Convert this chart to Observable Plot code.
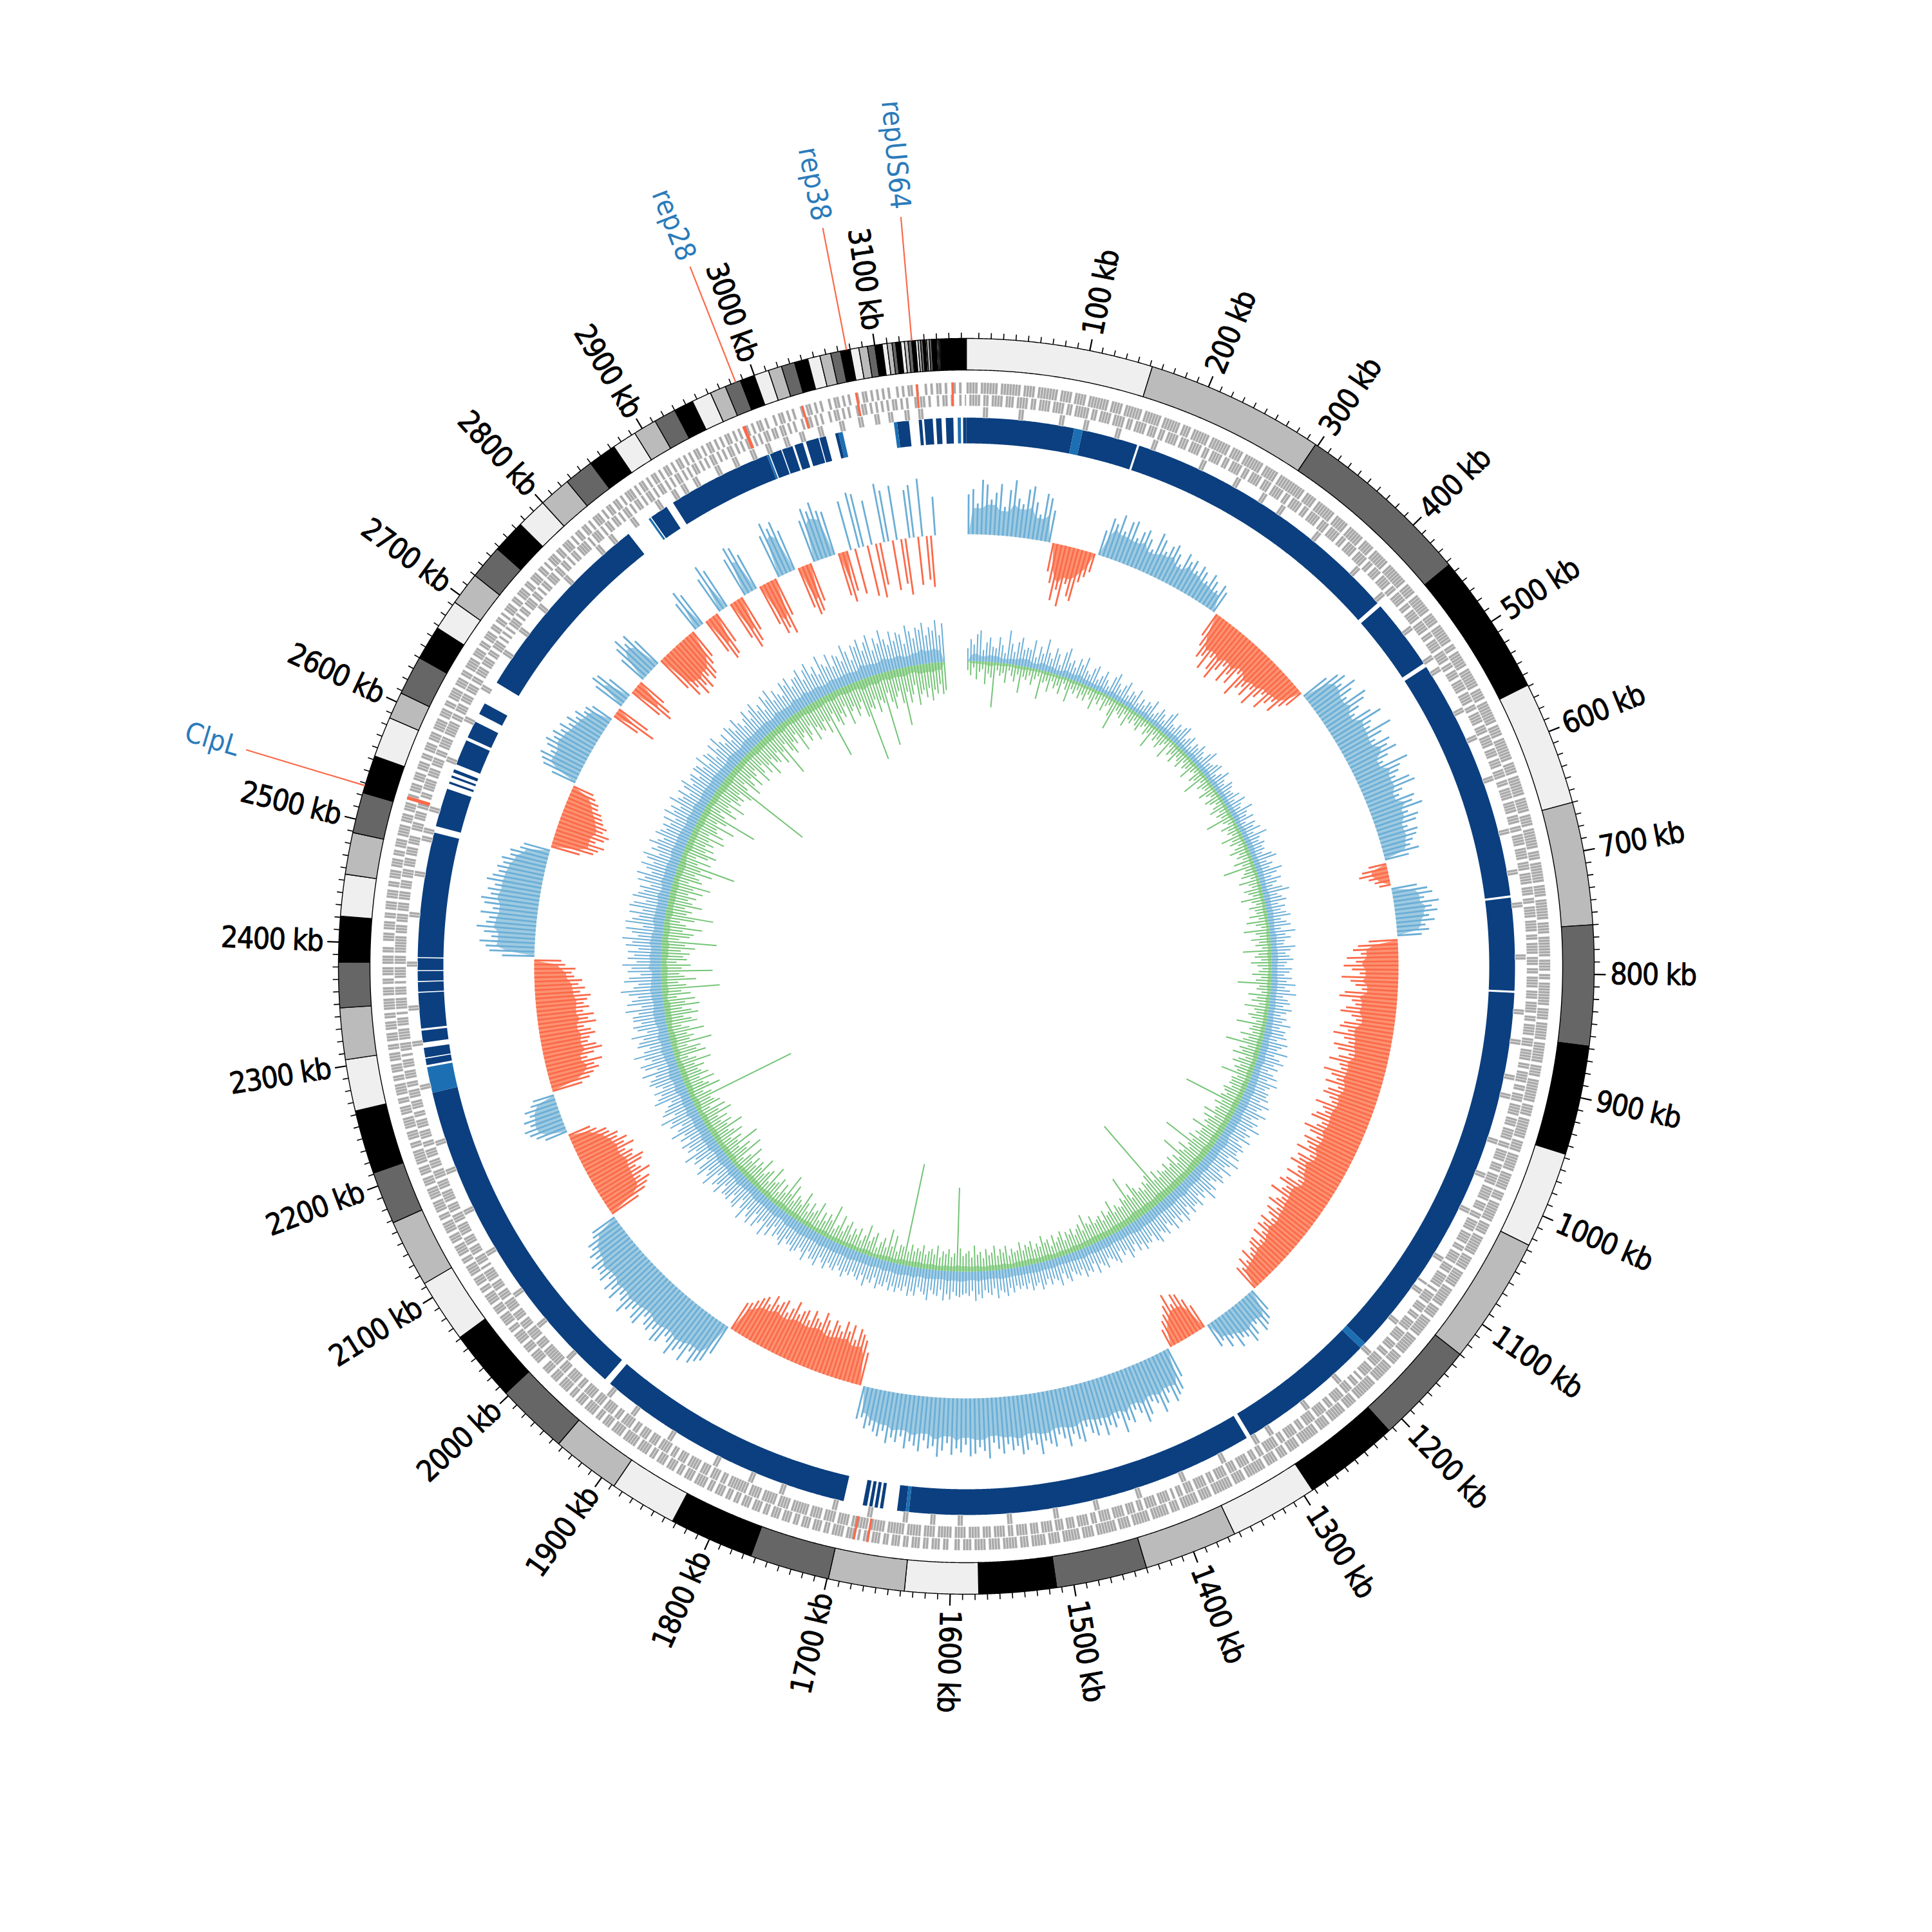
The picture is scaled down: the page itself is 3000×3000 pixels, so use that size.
<!DOCTYPE html>
<html><head><meta charset="utf-8">
<script src="https://cdn.jsdelivr.net/npm/d3@7"></script>
<script src="https://cdn.jsdelivr.net/npm/@observablehq/plot@0.6"></script>
<style>body{margin:0;background:#fff}</style>
</head><body><div id="chart"></div>
<script>
// ---------------- data ----------------
const genomeKb = 3174;
const tickKb = [100,200,300,400,500,600,700,800,900,1000,1100,1200,1300,1400,1500,1600,1700,1800,1900,2000,2100,2200,2300,2400,2500,2600,2700,2800,2900,3000,3100];
const tickLabels = tickKb.map(k => k + " kb");

// contig / band ends (kb); colours cycle light, grey, dark, black
const bandEnds = [152,298,443,559,660,760,858,947,1026,1130,1214,1292,1364,1440,1514,1577,1637,1699,1764,1833,1888,1944,2003,2061,2113,2168,2211,2263,2305,2347,2384,2421,2455,2489,2522,2553,2586,2608,2640,2668,2693,2720,2748,2775,2800,2826,2850,2873,2893,2912,2930,2946,2962,2975,2988,3000,3012,3023,3034,3045,3055,3064,3072,3080,3087,3094,3100,3106,3110,3114,3117,3121,3124,3127,3130,3133,3135,3137,3139,3141,3142,3144,3146,3150,3151,3152,3153,3174];
const bandColors = ["#efefef","#bbbbbb","#666666","#000000"];

// gene presence per 2.5-kb slot, one string per 100 kb (outer, inner and extra tile layers)
const geneOuter = ["1111011111101111111011110111111101111011","1101111111011110111111011111101111110111","0111111011111110111101111111011111011111","1111101111011111110111110111111011110111","1110111111110111101111111011110111111101","1011111101111111011110111111110111101111","1111011110111111101111101111011111110111","0111111101111011111110111101111111011110","1101111111101111011111101111111011110111","1111101111011111110111101111110111111011","1011111110111101111111011111011111101111","1110111101111111011111110111101111111011","1111110111101111110111101111111011110111","0111101111111011110111111101111011111101","1101111110111111011110111111101111011111","1011110111110111011111011110111101110110","0110111011011101101110110111011010111011","1101101110111011011101110110111011101101","1011101101111011101101110111011011110111","1101111011101101111011101101111011101110","0111101110111101101111011101111011011101","1110110111101110111101101111011110111011","1011111011011101111011101101111011011101","1101101110111011011110111011011101110110","0111011101101110111011011101110110111011","1101110111011011101110111011011101110111","1011101101111011101101111011101101110110","1101011101101110110111011010111011011101","0110110101110101101101011101011010110101","1010110101011010110101011010101101011010","0101101010010110101001011010100101101010","1010010101101001010110100101001000000000"];
const geneInner = ["0111101101111011101111011011110111101101","1111011011110111101101111011101101111011","1011110110111101101111011011110111011110","1101111011011110111011110110111101111011","0111011110110111101101111011110110111101","1110110111011110111101101111011101111011","1011101110110111101111011101101111011110","1110111101110110111101111011011110111011","0111101110111101101111011101111011011110","1101110111101110111101101111011101111011","1110111011011110111101101111011101111101","0111101110110111101111011101101111011110","1011011101111011011110111101101111011011","1110110110111101110111101101111011101101","0111101111011011101111011110110111101110","1110111101110111101101111011101111011110","1111101111011111011111101111101111110111","1011110111101111110111101111101111011111","1101101110111011110111011011110111011101","1011110110111101110111101101111011101111","1110111011110111011101111011101110111101","0111011101110111101110111011110111011101","1101110110111011101101110111011011101110","1011101111011101011110111010111101110111","1110111011101110111011101110111011101110","0111011101110110111101110111011011110111","1101101110111011101101110111011011101010","1011101011011101101011011101101101011011","1101011101011011010110101101011010110101","0110101011010101101010110101011010101101","1011010100101101010010110101001011010101","0101101010010110100101101001011000000000"];
const geneExtra = ["0000001100000000000110000000000000110000","0001100000000001100000000000011000000000","0000000011000000000000110000000001100000","0110000000000000011000000000000000001100","0000000001100000000000000110000000000011","0001100000000000000011000000000110000000","0000000110000000000000000001100000000000","0011000000000011000000000000000001100000","0000000000000110000000001100000000000110","0000110000000000000001100000000000110000","0000000011000000000000000000110000000001","0011000000000000110000000000000110000000","0000001100000000000001100000000000000110","0001100000000000011000000000000001100000","0000000000110000000000000011000000000000","0110000000000000001100000000000000001100","0000001100000000110000000000011000000000","0011000000000000000000110000000000110000","0000000011000000000000000001100000000000","0001100000000011000000000000000000110000","0000000000110000000000001100000000000000","0011000000000000000110000000000000011000","0000001100000000000000000001100000000000","0001100000000000110000000000000011000000","0000000000110000000000000110000000000011","0110000001100000000000000000110000000000","0000110000000000011000000000000011000000","0011000000000110000000000001100000000000","0001100001100000000110000000001100000110","0110001100000001100000110000011000011000","0011000011000001100000011000001100001100","0110000110001100000000000000000000000000"];
const redGeneStart = [1672,1684,2527,2975,3029,3077,3130,3161];
const redGeneEnd   = [1674,1686,2530,2978,3031,3079,3132,3163];

// alignment / coverage blocks (kb)
const darkBlocks = [[0,100],[108,160],[162,428],[432,498],[502,728],[730,816],[818,1176],[1182,1312],[1316,1640],[1643,1651],[1664,1667],[1669,1672],[1674,1677],[1679,1683],[1701,1944],[1950,2263],[2289,2295],[2296,2305],[2310,2321],[2323,2356],[2357,2366],[2367,2376],[2377,2388],[2389,2505],[2511,2547],[2552,2554],[2558,2560],[2563,2566],[2571,2595],[2598,2614],[2622,2633],[2655,2839],[2865,2882],[2889,2986],[2989,3000],[3001,3011],[3013,3021],[3024,3036],[3037,3043],[3052,3055],[3110,3121],[3130,3133],[3135,3143],[3146,3151],[3155,3162],[3171,3174]];
const lightBlocks = [[100,108],[1176,1182],[1640,1643],[2263,2287],[2862,2864],[2986,2988],[3055,3059],[3107,3110],[3166,3169]];

// skew-like histogram, 5-kb bins from 0 kb (positive = blue outward, negative = red inward)
const skew = [
 62,70,48,85,78,55,66,80,45,72,88,60,52,76,82,58,40,74,68,50,
 -45,-62,-88,-70,-95,-58,-76,-82,-50,-40,-30,
 40,62,55,72,48,66,70,45,58,64,52,38,68,60,44,56,62,50,36,58,48,54,40,52,46,34,50,42,30,44,36,
 -40,-55,-72,-66,-85,-60,-78,-90,-70,-58,-82,-64,-76,-52,-88,-70,-62,-74,-56,-80,-60,-48,-70,-54,-44,-58,-40,-30,
 45,62,70,58,78,66,52,82,74,60,48,72,86,64,58,90,70,55,76,68,80,62,50,88,72,66,58,78,84,60,52,74,68,82,56,70,64,48,62,58,50,44,56,38,
 -28,-40,-46,-32,-24,-18,
 40,55,62,48,70,58,66,52,60,45,50,38,
 -45,-62,-70,-58,-80,-66,-85,-72,-60,-88,-74,-66,-56,-82,-90,-70,-64,-78,-86,-68,
 -60,-78,-84,-70,-92,-74,-66,-88,-80,-62,-76,-90,-72,-68,-94,-80,-70,-86,-64,-78,
 -84,-72,-66,-90,-76,-70,-82,-88,-68,-74,-92,-80,-66,-84,-76,-70,-88,-62,-80,-74,
 -86,-70,-66,-82,-58,-76,-84,-68,-72,-88,-64,-70,-80,-60,-74,-66,-56,-72,-62,-68,
 -54,-66,-48,-60,-58,-50,-44,-56,-40,-50,-36,-42,
 38,50,56,62,44,58,66,52,48,60,40,50,34,40,
 -40,-55,-68,-72,-58,-78,-62,-50,-42,-30,
 48,66,72,80,62,76,88,70,64,82,92,74,66,84,78,95,70,82,76,90,
 72,86,80,68,90,84,74,92,78,70,88,82,76,96,80,72,86,92,78,84,
 74,88,80,70,94,82,76,86,90,72,84,78,88,70,82,92,76,80,68,86,
 78,72,84,66,76,70,80,62,72,66,58,64,48,52,
 -52,-70,-78,-85,-66,-88,-76,-90,-72,-80,-86,-68,-82,-92,-74,-78,-88,-70,-84,-80,-72,-90,-76,-66,-84,-78,-70,-82,-64,-74,-68,-60,-52,-48,
 50,68,74,82,66,88,72,80,92,76,70,86,90,74,82,78,68,88,84,72,80,92,76,70,86,74,82,66,78,72,70,76,62,68,58,60,46,42,
 -50,-66,-74,-82,-70,-90,-78,-72,-86,-92,-76,-80,-70,-88,-74,-82,-68,-72,-60,-58,-44,-36,
 36,48,56,62,50,58,46,52,40,34,
 -48,-62,-70,-80,-74,-88,-66,-78,-92,-84,-72,-76,-86,-80,-70,-90,-78,-88,-72,-82,-74,-80,-86,-70,-78,-68,-74,-62,-58,-64,-48,-42,
 50,70,76,86,68,80,92,78,74,88,70,84,90,76,82,72,86,78,70,74,66,70,58,60,46,42,
 -46,-66,-72,-80,-64,-76,-82,-70,-74,-66,-62,-58,-50,-48,-40,-34,
 40,58,64,70,56,66,72,62,68,58,64,52,60,48,54,42,44,36,
 -45,-70,-55, 50,62,58,40, -55,-72,-64,-48, 45,62,72,58,68,50,
 -60,-80,-70,-88,-76,-85,-68,-78,-72,-58,-48, 50,66,56, -58,-75,-70,-52, 60,78,66,
 -62,-82,-74,-58, 64,80,76,60, -66,-85,-78,-90,-62, 70,88,76,84,66, -66,-80,-76,-62,
 68,85,78,90,74,70, -68,-80,-64,
 78,-72,88,84,-80,70,-85,-66,92,80,-78,85,-70,-88,75,82,-75,90,-68,-80,60];

// inner track, 5-kb bins: high part (blue, outward) and low part (green, inward)
const gcHigh = [
 20,34,26,42,48,18,30,38,24,22,40,28,16,52,32,20,36,44,26,30,
 28,44,18,36,26,50,30,22,40,32,16,38,46,24,30,20,36,28,42,22,
 18,30,36,16,24,34,22,14,32,40,26,18,28,36,16,26,22,34,14,24,
 16,26,22,34,14,20,30,24,16,32,38,20,18,28,22,30,34,16,22,28,
 14,24,20,30,22,16,28,36,18,20,26,30,14,22,32,20,16,28,24,18,
 20,28,16,32,22,18,36,24,20,30,14,28,22,32,18,38,24,20,28,22,
 24,18,32,38,20,28,22,40,30,20,34,26,18,32,42,22,28,34,20,30,
 22,30,36,20,28,34,18,40,24,32,22,20,38,30,22,28,34,24,20,32,
 28,20,32,24,38,22,30,40,20,28,32,22,36,28,20,30,24,38,22,32,
 30,36,22,40,32,26,44,24,34,42,28,36,22,32,40,26,44,34,28,36,
 34,40,28,46,36,30,48,38,28,42,36,50,30,40,34,46,28,38,44,36,
 38,46,30,52,40,34,50,32,42,48,38,30,46,40,54,34,42,32,48,40,
 40,48,32,44,52,36,46,34,50,40,32,48,42,36,52,46,34,42,40,48,
 36,44,30,40,48,32,38,28,46,40,34,30,44,38,32,46,28,40,36,44,
 30,38,34,28,42,36,26,44,34,30,38,28,36,42,30,34,40,28,36,30,
 34,28,38,30,42,36,32,44,28,38,34,30,42,36,46,30,38,34,36,40,
 38,32,44,36,46,30,40,38,32,48,40,36,30,44,38,46,32,40,36,44,
 36,44,32,40,38,46,30,40,36,48,32,42,38,32,40,36,46,38,32,42,
 40,34,46,38,32,48,40,42,32,50,38,34,42,46,38,40,34,48,42,36,
 42,28,48,36,54,32,40,50,30,52,44,34,56,40,28,48,44,32,46,42,
 44,32,52,40,46,30,56,44,36,54,46,28,48,42,58,34,46,40,50,32,
 46,36,56,42,32,50,44,60,34,52,46,38,30,56,48,40,50,34,44,52,
 48,38,58,32,50,56,36,46,62,44,34,52,48,40,58,32,46,52,38,50,
 50,40,60,34,56,48,38,52,64,44,36,58,50,32,52,46,60,38,52,42,
 52,36,56,46,62,38,48,58,32,60,50,40,56,36,58,52,34,56,48,40,
 48,32,54,44,58,36,46,56,38,50,58,34,48,40,56,44,36,52,46,38,
 46,36,50,32,54,40,48,34,56,44,38,50,32,46,54,36,44,48,34,50,
 48,38,56,34,50,46,32,54,40,58,44,36,50,32,54,48,38,56,44,34,
 44,54,36,48,56,38,46,32,54,44,58,36,50,40,34,54,46,56,38,48,
 48,58,38,52,60,40,50,34,62,46,40,58,36,52,48,38,62,50,34,56,
 52,62,42,54,64,38,56,46,66,50,40,60,44,56,52,36,64,54,42,58,
 54,64,44,56,50,66,42,60];
const gcLow = [
 -14,-22,-10,-28,-16,-12,-35,-18,-24,-70,-12,-20,-15,-30,-10,-18,-26,-14,-42,-16,
 -20,-12,-26,-16,-10,-45,-18,-14,-30,-12,-22,-16,-28,-10,-18,-36,-14,-20,-12,-24,
 -16,-24,-12,-18,-32,-14,-20,-10,-26,-16,-12,-28,-48,-14,-18,-22,-12,-30,-16,-20,
 -12,-18,-24,-14,-10,-22,-16,-38,-12,-20,-14,-26,-18,-12,-34,-10,-22,-16,-28,-14,
 -18,-26,-12,-20,-16,-30,-14,-10,-24,-18,-40,-12,-22,-16,-14,-28,-18,-12,-26,-20,
 -12,-20,-28,-14,-22,-16,-44,-18,-12,-26,-16,-20,-14,-34,-18,-24,-12,-20,-30,-16,
 -22,-14,-30,-18,-50,-16,-20,-26,-12,-32,-18,-14,-28,-22,-16,-36,-20,-14,-26,-18,
 -16,-28,-14,-34,-20,-12,-40,-22,-16,-30,-18,-24,-14,-44,-20,-26,-16,-32,-22,-14,
 -20,-30,-16,-24,-52,-18,-22,-14,-34,-20,-28,-16,-38,-22,-18,-30,-24,-16,-46,-20,
 -24,-18,-36,-22,-30,-56,-20,-32,-26,-40,-18,-28,-36,-22,-30,-24,-48,-20,-28,-26,
 -28,-22,-34,-30,-24,-32,-90,-26,-36,-24,-30,-28,-45,-24,-40,-30,-34,-26,-50,-30,
 -30,-36,-26,-42,-32,-80,-34,-28,-46,-32,-38,-65,-30,-40,-26,-44,-34,-30,-42,-32,
 -34,-40,-30,-46,-32,-146,-48,-36,-42,-30,-38,-34,-44,-55,-32,-40,-73,-36,-42,-30,
 -32,-38,-28,-50,-34,-30,-40,-26,-36,-32,-28,-42,-30,-34,-50,-26,-38,-32,-24,-36,
 -28,-34,-22,-38,-30,-24,-36,-20,-32,-28,-40,-24,-30,-22,-36,-28,-32,-24,-38,-26,
 -24,-30,-20,-36,-26,-32,-22,-38,-28,-24,-34,-20,-30,-26,-40,-22,-32,-28,-24,-36,
 -130,-28,-22,-34,-26,-30,-20,-38,-24,-32,-28,-22,-36,-26,-30,-24,-34,-22,-160,-28,
 -30,-18,-42,-24,-50,-20,-34,-26,-16,-38,-30,-22,-46,-28,-18,-36,-24,-32,-20,-40,
 -32,-20,-44,-26,-18,-54,-28,-36,-22,-34,-18,-46,-30,-24,-38,-20,-32,-48,-24,-30,
 -34,-22,-46,-28,-58,-24,-36,-18,-40,-30,-26,-50,-20,-38,-32,-24,-48,-28,-36,-24,
 -36,-24,-48,-30,-18,-56,-32,-42,-24,-62,-28,-38,-22,-46,-34,-26,-54,-30,-40,-24,
 -38,-24,-50,-30,-44,-20,-40,-32,-28,-170,-34,-22,-52,-36,-28,-48,-26,-42,-32,-28,
 -40,-26,-54,-32,-20,-50,-36,-44,-24,-64,-30,-38,-28,-56,-34,-22,-48,-40,-28,-52,
 -42,-28,-56,-34,-50,-22,-44,-30,-90,-38,-26,-54,-36,-28,-80,-32,-46,-24,-40,-34,
 -44,-30,-52,-36,-85,-26,-42,-48,-30,-60,-34,-24,-46,-75,-32,-40,-28,-54,-38,-30,
 -42,-28,-50,-34,-60,-24,-44,-38,-30,-56,-36,-90,-28,-48,-22,-40,-52,-32,-44,-28,
 -40,-30,-54,-26,-48,-36,-32,-60,-28,-42,-90,-34,-24,-50,-38,-30,-56,-28,-44,-36,
 -44,-32,-52,-150,-38,-28,-56,-42,-30,-50,-34,-26,-54,-40,-28,-48,-36,-58,-32,-42,
 -46,-30,-54,-36,-80,-28,-44,-52,-34,-40,-26,-58,-38,-32,-50,-42,-28,-56,-36,-44,
 -48,-34,-56,-38,-100,-30,-46,-54,-36,-44,-28,-60,-40,-34,-52,-42,-32,-58,-130,-46,
 -50,-36,-58,-40,-46,-115,-32,-48,-60,-42,-34,-54,-90,-38,-56,-44,-30,-62,-46,-40,
 -52,-38,-58,-42,-48,-34,-50,-44];

const geneNames = ["ClpL","rep28","rep38","repUS64"];
const geneNameKb = [2528, 2984, 3077, 3130];

// ---------------- geometry helpers ----------------
const binKb = 5;
const TAU = Math.PI * 2;
const toXY = (kb, r) => { const a = kb / genomeKb * TAU; return {x: r * Math.sin(a), y: -r * Math.cos(a)}; };
function arcPolygon(id, s, e, r0, r1, fill, step) {
  const pts = [];
  const n = Math.max(1, Math.ceil((e - s) / step));
  for (let i = 0; i <= n; i++) pts.push({id, fill, ...toXY(s + (e - s) * i / n, r1)});
  for (let i = n; i >= 0; i--) pts.push({id, fill, ...toXY(s + (e - s) * i / n, r0)});
  pts.push({...pts[0]});
  return pts;
}
// light fill under the spikes: lower envelope of neighbouring bins
function envelopePolygon(values, base, sign, factor, id, fill) {
  const part = v => v === undefined ? 0 : (sign > 0 ? Math.max(v, 0) : Math.min(v, 0));
  const pts = [{id, fill, ...toXY(0, base)}];
  values.forEach((v, i) => {
    const a = part(values[i - 1]), b = part(v), c = part(values[i + 1]);
    const env = sign > 0 ? Math.min(a, b, c) : Math.max(a, b, c);
    pts.push({id, fill, ...toXY(i * binKb + binKb / 2, base + env * factor)});
  });
  const end = values.length * binKb;
  for (let k = end; k >= 0; k -= 2) pts.push({id, fill, ...toXY(k, base)});
  pts.push({...pts[0]});
  return pts;
}
// radial spike for every bin of the chosen sign
function spikes(values, base, sign) {
  const out = [];
  values.forEach((v, i) => {
    if (sign > 0 ? v > 0 : v < 0) {
      const k = i * binKb + binKb / 2, a = toXY(k, base), b = toXY(k, base + v);
      out.push({x1: a.x, y1: a.y, x2: b.x, y2: b.y});
    }
  });
  return out;
}

// ---------------- layout radii ----------------
const R = {ideoIn: 926, ideoOut: 975, minor: 984, major: 993, label: 1000,
  gOuter: [889, 907], gInner: [870, 888], gExtra: [852, 869],
  blue: [812, 852], hist: 671, inner: 474, leaderEnd: 1168, nameR: 1180};

const bandStarts = [0, ...bandEnds.slice(0, -1)];
const bandPts = bandEnds.flatMap((e, i) => arcPolygon("b" + i, bandStarts[i], e, R.ideoIn, R.ideoOut, bandColors[i % 4], 1));

function geneRow(rows, r, tag) {
  const out = [];
  rows.forEach((str, k) => [...str].forEach((c, j) => {
    const s = k * 100 + j * 2.5;
    if (c === "1" && s < genomeKb) out.push(...arcPolygon(tag + k + "_" + j, s, Math.min(s + 2.5, genomeKb), r[0], r[1], "#a9a9a9", 5));
  }));
  return out;
}
const genePts = [...geneRow(geneOuter, R.gOuter, "o"), ...geneRow(geneInner, R.gInner, "i"), ...geneRow(geneExtra, R.gExtra, "x")];
const redGenePts = redGeneStart.flatMap((s, i) => arcPolygon("r" + i, s, redGeneEnd[i], R.gInner[0], R.gOuter[1], "#fb6a4a", 1));

const blockPts = [
  ...darkBlocks.flatMap(([s, e], i) => arcPolygon("d" + i, s, e, R.blue[0], R.blue[1], "#0b3f7f", 1)),
  ...lightBlocks.flatMap(([s, e], i) => arcPolygon("l" + i, s, e, R.blue[0], R.blue[1], "#1d6fb3", 1))
];

const histPts = [...envelopePolygon(skew, R.hist, 1, 0.85, "hp", "#9ecae1"), ...envelopePolygon(skew, R.hist, -1, 0.85, "hn", "#fc9272")];
const innerBluePts = envelopePolygon(gcHigh, R.inner, 1, 0.45, "gp", "#a6cfe6");
const innerGreenPts = envelopePolygon(gcLow, R.inner, -1, 0.35, "gn", "#a8dba1");

const minorKb = d3.range(0, genomeKb, 10).filter(k => k % 100 !== 0);
const tickSeg = (k, r1, r2) => { const a = toXY(k, r1), b = toXY(k, r2); return {x1: a.x, y1: a.y, x2: b.x, y2: b.y}; };
const minorTicks = minorKb.map(k => tickSeg(k, R.ideoOut, R.minor));
const majorTicks = tickKb.map(k => tickSeg(k, R.ideoOut, R.major));
const tickText = tickKb.map((k, i) => {
  const deg = k / genomeKb * 360;
  const right = deg < 185;
  return {...toXY(k, R.label), text: tickLabels[i], rot: right ? deg - 90 : deg + 90, right};
});
const leaders = geneNameKb.map(k => tickSeg(k, R.ideoOut, R.leaderEnd));
const nameText = geneNameKb.map((k, i) => ({...toXY(k, R.nameR), text: geneNames[i], rot: k / genomeKb * 360 + 90}));

const font = "'DejaVu Sans Condensed', 'Liberation Sans Narrow', 'DejaVu Sans', sans-serif";
const linkOpts = (stroke, w) => ({x1: "x1", y1: "y1", x2: "x2", y2: "y2", stroke, strokeWidth: w});

const chart = Plot.plot({
  width: 3000, height: 3000, margin: 0,
  x: {domain: [-1500, 1500], axis: null},
  y: {domain: [1500, -1500], axis: null},
  color: {type: "identity"},
  style: {fontFamily: font, background: "#fff"},
  marks: [
    Plot.line(histPts, {x: "x", y: "y", z: "id", fill: "fill", stroke: "none"}),
    Plot.link(spikes(skew, R.hist, 1), linkOpts("#6baed6", 2.8)),
    Plot.link(spikes(skew, R.hist, -1), linkOpts("#fb6a4a", 2.8)),
    Plot.line(innerBluePts, {x: "x", y: "y", z: "id", fill: "fill", stroke: "none"}),
    Plot.line(innerGreenPts, {x: "x", y: "y", z: "id", fill: "fill", stroke: "none"}),
    Plot.link(spikes(gcHigh, R.inner, 1), linkOpts("#6baed6", 2)),
    Plot.link(spikes(gcLow, R.inner, -1), linkOpts("#74c476", 2)),
    Plot.line(blockPts, {x: "x", y: "y", z: "id", fill: "fill", stroke: "none"}),
    Plot.line(genePts, {x: "x", y: "y", z: "id", fill: "fill", stroke: "#fff", strokeWidth: 0.6}),
    Plot.line(redGenePts, {x: "x", y: "y", z: "id", fill: "fill", stroke: "none"}),
    Plot.line(bandPts, {x: "x", y: "y", z: "id", fill: "fill", stroke: "#000", strokeWidth: 1.4}),
    Plot.link(minorTicks, linkOpts("#000", 1.6)),
    Plot.link(majorTicks, linkOpts("#000", 2.2)),
    Plot.link(leaders, linkOpts("#fb6a4a", 2.2)),
    Plot.text(tickText.filter(d => d.right), {x: "x", y: "y", text: "text", rotate: "rot", textAnchor: "start", fontSize: 46, fill: "#000", stroke: "#000", strokeWidth: 0.9, fontFamily: font}),
    Plot.text(tickText.filter(d => !d.right), {x: "x", y: "y", text: "text", rotate: "rot", textAnchor: "end", fontSize: 46, fill: "#000", stroke: "#000", strokeWidth: 0.9, fontFamily: font}),
    Plot.text(nameText, {x: "x", y: "y", text: "text", rotate: "rot", textAnchor: "end", fontSize: 44, fill: "#2b7bba", fontFamily: font})
  ]
});
chart.querySelectorAll("text").forEach(t => { if (/ kb$/.test(t.textContent)) t.setAttribute("letter-spacing", "-1.5"); });
document.getElementById("chart").appendChild(chart);
</script>
</body></html>
